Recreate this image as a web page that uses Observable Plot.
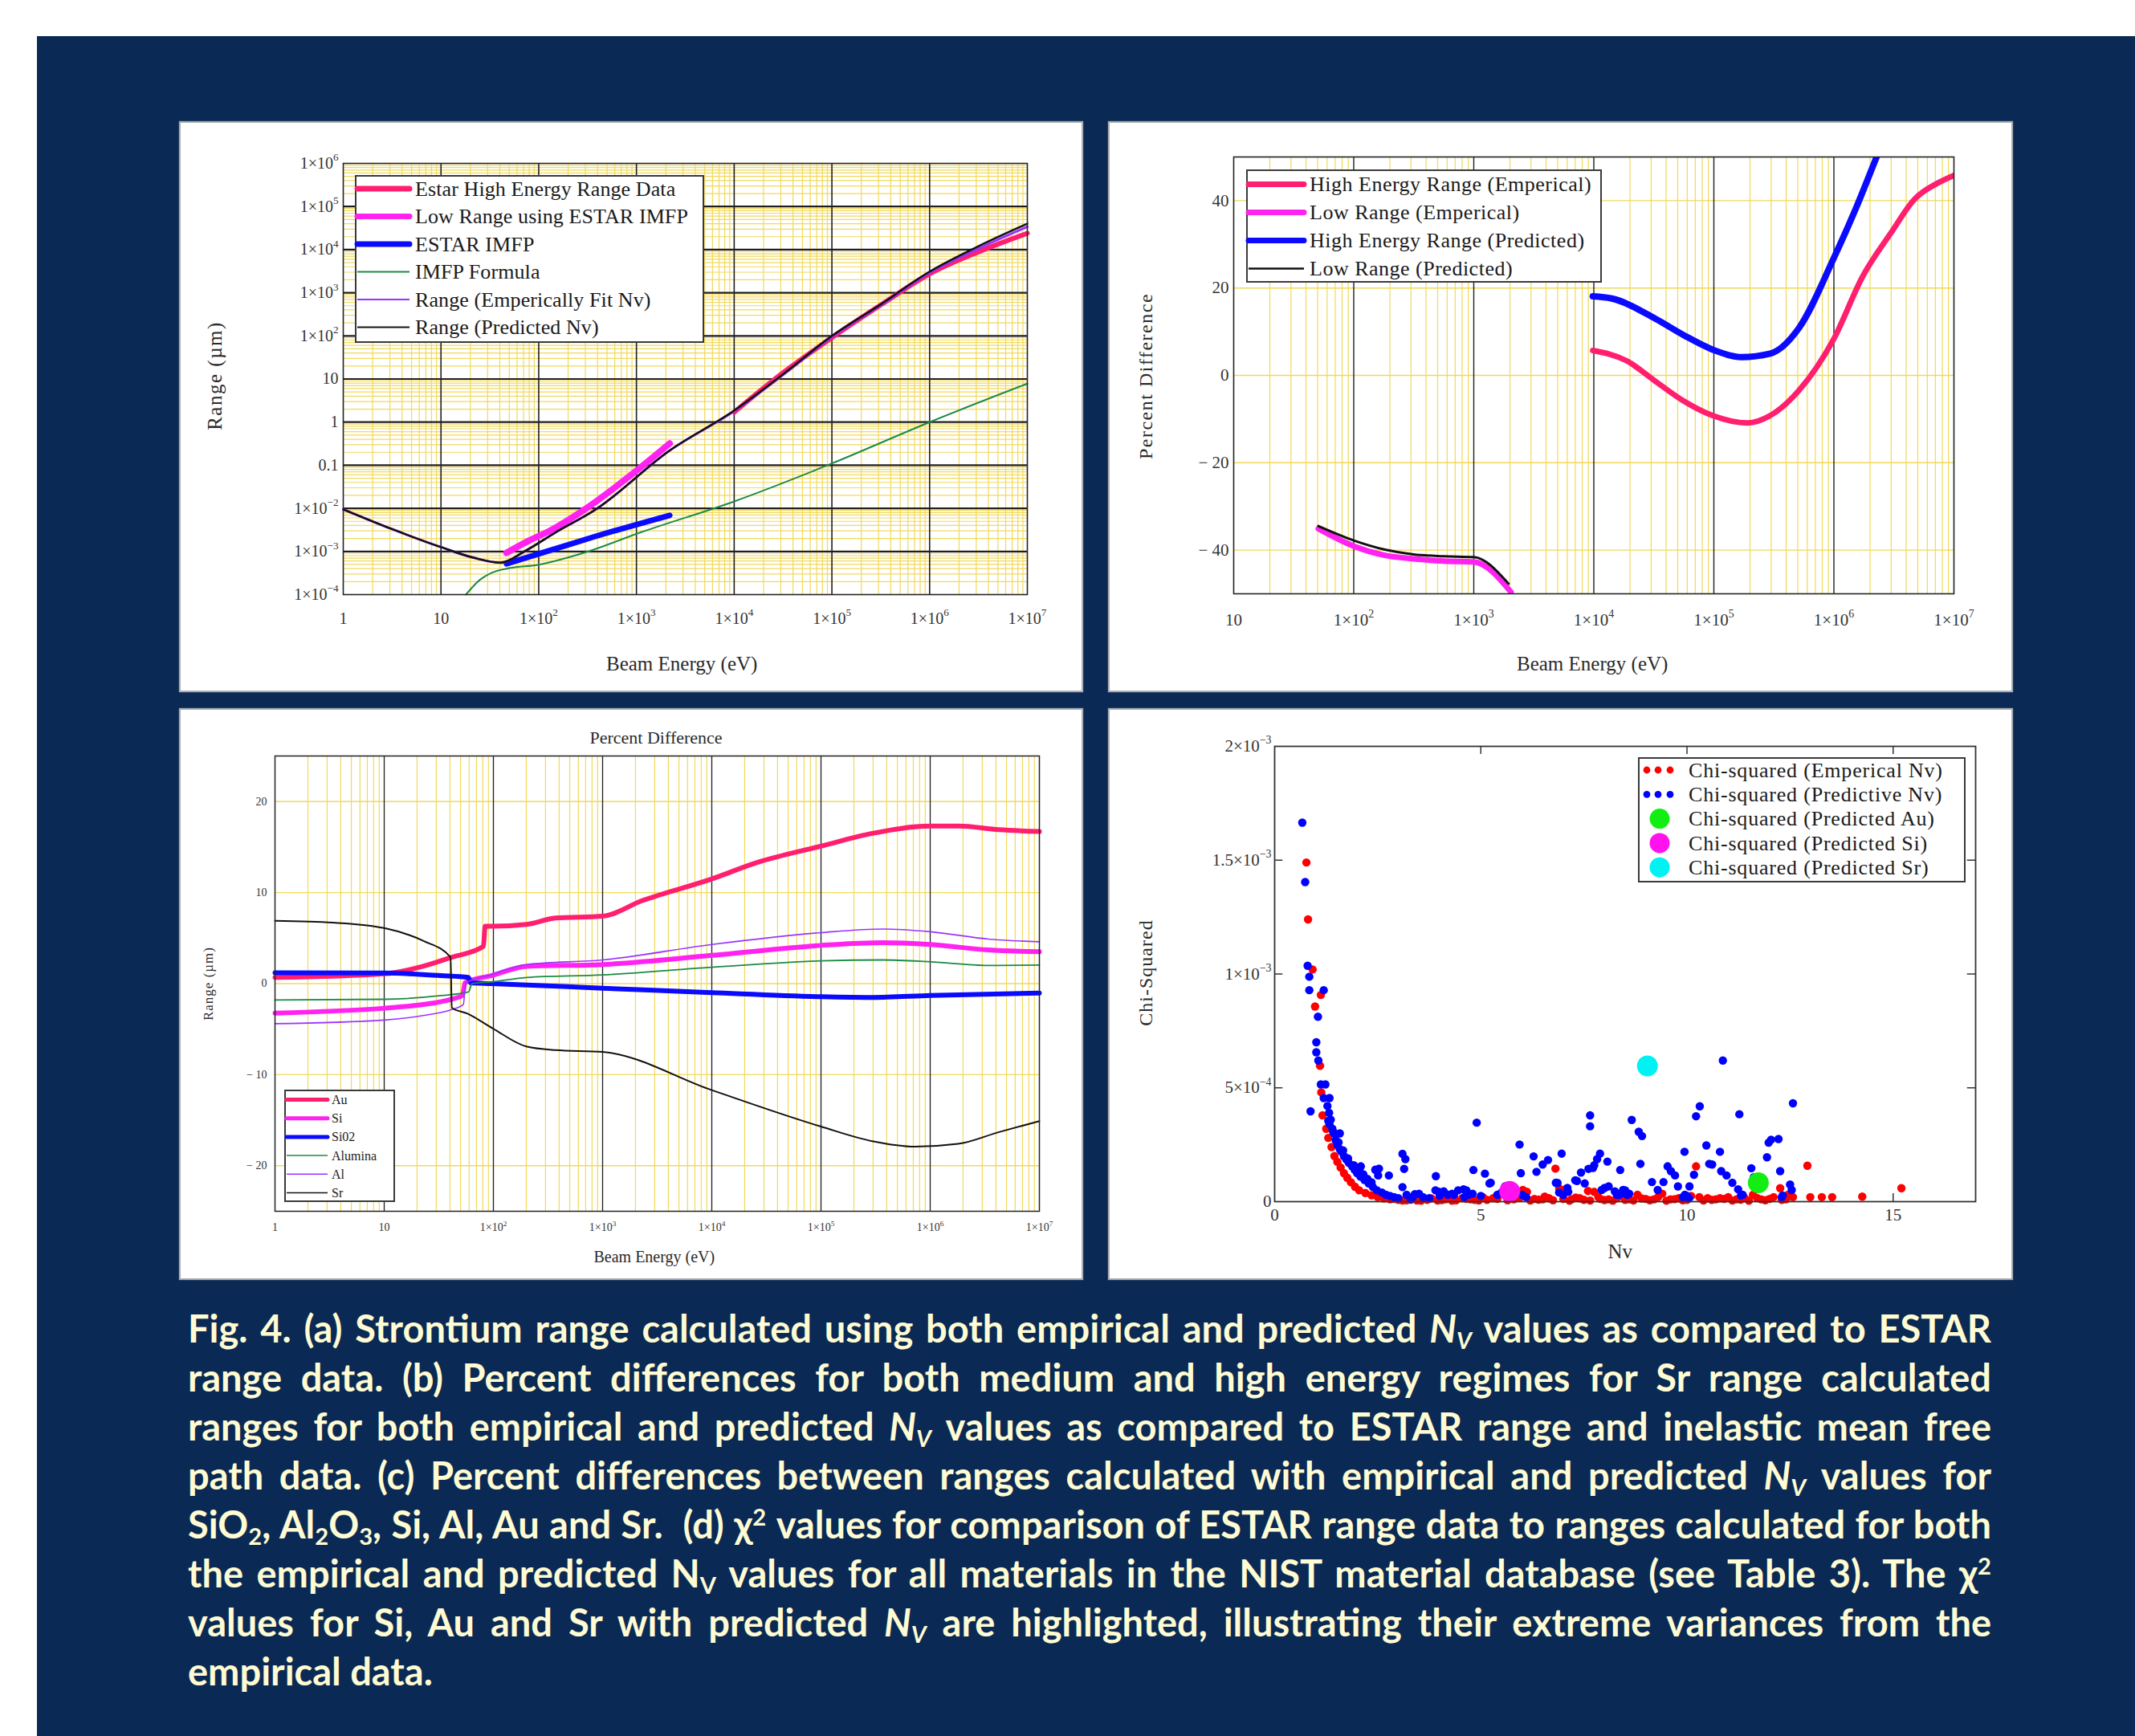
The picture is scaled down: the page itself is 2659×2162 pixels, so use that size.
<!DOCTYPE html>
<html><head><meta charset="utf-8">
<script src="https://cdn.jsdelivr.net/npm/d3@7"></script>
<script src="https://cdn.jsdelivr.net/npm/@observablehq/plot@0.6"></script>
<style>
html,body{margin:0;padding:0;width:2659px;height:2162px;overflow:hidden;background:#fff;}
#navy{position:absolute;left:46px;top:45px;width:2613px;height:2117px;background:#0a2a55;}
.panel{position:absolute;background:#fff;box-shadow:0 0 1px 2px rgba(190,190,190,0.9);}
.panel svg{position:absolute;left:0;top:0;overflow:visible;}
.lab{position:absolute;font-family:"Liberation Serif","Times New Roman",serif;color:#2a2a2a;white-space:nowrap;transform-origin:center center;}
#caption{position:absolute;left:234px;top:1624px;width:2246px;font-family:Lato,"Open Sans",sans-serif;font-weight:700;font-size:47px;line-height:61px;color:#fffbd2;}
#caption .ln{white-space:nowrap;}
#caption sub,#caption sup{font-size:0.62em;line-height:0;}
#caption sub{vertical-align:-0.28em;}
#caption sup{vertical-align:0.55em;}
</style></head>
<body>
<div id="navy"></div>
<div class="panel" id="pa" style="left:225px;top:153px;width:1122px;height:707px"></div>
<div class="panel" id="pb" style="left:1382px;top:153px;width:1123px;height:707px"></div>
<div class="panel" id="pc" style="left:225px;top:884px;width:1122px;height:708px"></div>
<div class="panel" id="pd" style="left:1382px;top:884px;width:1123px;height:708px"></div>
<div id="caption">
<div class="ln"><span>Fig. 4. (a) Strontium range calculated using both empirical and predicted <i>N<sub>V</sub></i> values as compared to ESTAR</span></div>
<div class="ln"><span>range data. (b) Percent differences for both medium and high energy regimes for Sr range calculated</span></div>
<div class="ln"><span>ranges for both empirical and predicted <i>N<sub>V</sub></i> values as compared to ESTAR range and inelastic mean free</span></div>
<div class="ln"><span>path data. (c) Percent differences between ranges calculated with empirical and predicted <i>N<sub>V</sub></i> values for</span></div>
<div class="ln"><span>SiO<sub>2</sub>, Al<sub>2</sub>O<sub>3</sub>, Si, Al, Au and Sr.&nbsp; (d) χ<sup>2</sup> values for comparison of ESTAR range data to ranges calculated for both</span></div>
<div class="ln"><span>the empirical and predicted N<sub>V</sub> values for all materials in the NIST material database (see Table 3). The χ<sup>2</sup></span></div>
<div class="ln"><span>values for Si, Au and Sr with predicted <i>N<sub>V</sub></i> are highlighted, illustrating their extreme variances from the</span></div>
<div class="ln last"><span>empirical data.</span></div>
</div>
<script>
// ================= DATA =================
// (a) Range vs beam energy (log-log)
const aPredE = [1, 3.16, 10, 21.9, 40.7, 74, 148, 380, 2190, 1e4, 3.39e4, 1e5, 3.16e5, 1e6, 3.16e6, 1e7];
const aPredR = [9.5e-3, 3.3e-3, 1.26e-3, 7.1e-4, 5.5e-4, 1.05e-3, 2.75e-3, 9.3e-3, 0.22, 1.86, 14.5, 100, 537, 3090, 1.2e4, 4.0e4];
const aEmpE  = [1, 3.16, 10, 21.9, 40.7, 74, 148, 380, 2190, 1e4, 3.39e4, 1e5, 3.16e5, 1e6, 3.16e6, 1e7];
const aEmpR  = [9.5e-3, 3.3e-3, 1.26e-3, 7.1e-4, 5.5e-4, 1.05e-3, 2.75e-3, 9.3e-3, 0.22, 1.8, 14, 95, 510, 2900, 1.06e4, 3.4e4];
const aEstarE = [1e4, 3.16e4, 1e5, 3.16e5, 1e6, 3.16e6, 1e7];
const aEstarR = [1.7, 14, 91, 520, 2750, 8900, 2.4e4];
const aLowE = [46.8, 80, 129, 288, 851, 2190];
const aLowR = [9.3e-4, 1.8e-3, 3.0e-3, 9.1e-3, 5.6e-2, 0.32];
const aImfpE = [46.8, 129, 380, 2190];
const aImfpR = [5.2e-4, 1.05e-3, 2.24e-3, 6.9e-3];
const aFormE = [18, 25, 33, 50, 98, 290, 1120, 1e4, 1e5, 1e6, 1e7];
const aFormR = [1e-4, 2.2e-4, 3.2e-4, 4.1e-4, 4.9e-4, 9.3e-4, 2.8e-3, 1.45e-2, 0.11, 1.0, 7.8];
const aXTicks = [1, 10, 1e2, 1e3, 1e4, 1e5, 1e6, 1e7];
const aXLabels = ["1", "10", "1×10^2", "1×10^3", "1×10^4", "1×10^5", "1×10^6", "1×10^7"];
const aYTicks = [1e-4, 1e-3, 1e-2, 0.1, 1, 10, 1e2, 1e3, 1e4, 1e5, 1e6];
const aYLabels = ["1×10^−4", "1×10^−3", "1×10^−2", "0.1", "1", "10", "1×10^2", "1×10^3", "1×10^4", "1×10^5", "1×10^6"];
const aLegend = ["Estar High Energy Range Data", "Low Range using ESTAR IMFP", "ESTAR IMFP", "IMFP Formula", "Range (Emperically Fit Nv)", "Range (Predicted Nv)"];

// (b) Percent difference vs beam energy
const bLowEmpE = [50.7, 100, 182, 316, 562, 1000, 2040];
const bLowEmpV = [-35.1, -39.1, -41.2, -42.0, -42.5, -42.7, -49.6];
const bLowPredE = [50.7, 100, 182, 316, 562, 1000, 1950];
const bLowPredV = [-34.5, -37.8, -39.9, -41.0, -41.4, -41.6, -47.7];
const bHighEmpE = [9800, 1.86e4, 3.24e4, 5.62e4, 9.77e4, 1.9e5, 2.95e5, 5.13e5, 1e6, 1.74e6, 3.02e6, 4.68e6, 7.41e6, 1e7];
const bHighEmpV = [5.7, 3.4, -1.3, -5.9, -9.2, -10.9, -9.2, -3.4, 8.4, 22.7, 32.8, 40.3, 44.1, 45.8];
const bHighPredE = [9800, 1.41e4, 3.24e4, 5.62e4, 9.77e4, 1.7e5, 2.95e5, 5.13e5, 1e6, 1.55e6, 2.3e6, 2.6e6];
const bHighPredV = [18.1, 17.6, 13.0, 9.2, 5.9, 4.2, 5.0, 10.9, 26.9, 38.7, 50.4, 54];
const bXTicks = [10, 1e2, 1e3, 1e4, 1e5, 1e6, 1e7];
const bXLabels = ["10", "1×10^2", "1×10^3", "1×10^4", "1×10^5", "1×10^6", "1×10^7"];
const bYTicks = [-40, -20, 0, 20, 40];
const bYLabels = ["− 40", "− 20", "0", "20", "40"];
const bLegend = ["High Energy Range (Emperical)", "Low Range (Emperical)", "High Energy Range (Predicted)", "Low Range (Predicted)"];

// (c) Percent difference for materials
const cAuE = [1, 10, 22.7, 41.6, 81, 84, 97, 201, 370, 1000, 2290, 1e4, 2.6e4, 1e5, 2.95e5, 1e6, 1.82e6, 4.27e6, 1e7];
const cAuV = [0.68, 1.08, 1.9, 2.9, 4.1, 6.3, 6.3, 6.5, 7.2, 7.4, 9.1, 11.5, 13.3, 15.1, 16.5, 17.3, 17.3, 16.9, 16.7];
const cSiE = [1, 10, 22.7, 41.6, 52, 55, 97, 201, 1000, 1e4, 1e5, 3.7e5, 1e6, 3.4e6, 1e7];
const cSiV = [-3.24, -2.7, -2.3, -1.7, -1.3, 0.1, 0.9, 1.9, 2.1, 3.1, 4.2, 4.5, 4.3, 3.7, 3.5];
const cSiO2E = [1, 10, 33, 59, 62, 97, 1000, 1e4, 1e5, 2.95e5, 1e6, 1e7];
const cSiO2V = [1.2, 1.16, 0.88, 0.68, 0.08, 0, -0.5, -1.0, -1.44, -1.52, -1.3, -1.04];
const cAlumE = [1, 10, 33, 59, 64, 97, 201, 1000, 1e4, 1e5, 3.7e5, 1e6, 3.4e6, 1e7];
const cAlumV = [-1.8, -1.72, -1.32, -0.92, 0, 0.2, 0.68, 0.96, 1.8, 2.5, 2.6, 2.4, 2.0, 2.04];
const cAlE = [1, 10, 22.7, 41.6, 53, 56, 97, 201, 1000, 1e4, 1e5, 3.7e5, 1e6, 3.4e6, 1e7];
const cAlV = [-4.4, -4.0, -3.5, -2.84, -2.3, 0.1, 1.0, 2.1, 2.6, 4.3, 5.6, 6.0, 5.7, 4.9, 4.6];
const cSrE = [1, 3.4, 10, 22.7, 40.5, 41.6, 58, 98, 200, 370, 1000, 1e4, 1e5, 2.95e5, 7.3e5, 1.8e6, 4.27e6, 1e7];
const cSrV = [6.9, 6.7, 6.1, 4.7, 2.9, -2.64, -3.3, -4.9, -6.9, -7.3, -7.5, -11.7, -15.7, -17.3, -17.9, -17.6, -16.3, -15.1];
const cYTicks = [-20, -10, 0, 10, 20];
const cYLabels = ["− 20", "− 10", "0", "10", "20"];
const cLegend = ["Au", "Si", "Si02", "Alumina", "Al", "Sr"];

// (d) Chi-squared vs Nv (chi values in units of 1e-4)
const dEmpNv = [0.77,0.81,0.92,0.98,1.12,1.10,1.13,1.16,1.25,1.3,1.38,1.45,1.52,1.6,1.68,1.76,1.85,1.95,2.05,2.2,2.35,2.5,2.65,2.8,3.0,3.2,3.45,3.7,3.95,4.15,4.4,4.65,4.85,5.05,5.3,5.5,5.8,6.02,6.12,6.3,6.5,6.65,6.81,6.9,7.05,7.2,7.4,7.6,7.75,7.9,8.1,8.3,8.5,8.8,9.0,9.2,9.4,9.6,9.8,10.0,10.22,10.3,10.5,10.7,10.9,11.2,11.4,11.6,11.8,12.0,12.26,12.4,12.57,12.92,12.99,13.27,13.52,14.25,15.2,
  2.9,3.1,3.3,3.55,3.8,4.05,4.3,4.55,4.75,4.95,5.15,5.4,5.65,5.95,6.2,6.4,6.55,6.75,7.0,7.15,7.3,7.5,7.65,7.85,8.0,8.2,8.4,8.6,8.7,8.9,9.1,9.3,9.5,9.7,9.9,10.1,10.4,10.6,10.8,11.0,11.1,11.3,11.5,11.7,11.9,12.1,12.3,12.45];
const dEmpChi = [14.9,12.4,10.2,8.57,9.08,5.97,4.8,3.79,3.2,2.8,2.4,2.0,1.75,1.5,1.25,1.05,0.85,0.65,0.5,0.38,0.28,0.2,0.14,0.1,0.08,0.06,0.05,0.08,0.05,0.1,0.06,0.12,0.08,0.2,0.15,0.35,0.1,0.51,0.43,0.12,0.1,0.15,1.45,0.58,0.54,0.1,0.15,0.47,0.43,0.12,0.1,0.15,0.08,0.3,0.12,0.1,0.35,0.1,0.15,0.08,1.55,0.2,0.15,0.1,0.12,0.1,0.15,0.3,0.1,0.12,0.59,0.1,0.2,1.58,0.2,0.2,0.2,0.22,0.59,
  0.12,0.05,0.09,0.04,0.14,0.07,0.04,0.15,0.1,0.05,0.08,0.12,0.06,0.18,0.05,0.09,0.22,0.06,0.12,0.04,0.18,0.08,0.05,0.2,0.07,0.04,0.25,0.1,0.05,0.14,0.06,0.2,0.04,0.11,0.06,0.25,0.05,0.08,0.15,0.2,0.05,0.09,0.04,0.16,0.06,0.2,0.08,0.3];
const dPredNv = [0.67,0.74,0.80,0.84,0.84,0.87,1.19,1.05,1.01,1.01,1.06,1.12,1.23,1.19,1.33,1.28,1.32,1.36,1.33,1.4,1.45,1.58,1.48,1.52,1.58,1.62,1.68,1.74,1.8,1.88,1.94,2.0,2.09,2.08,2.18,2.28,2.38,2.44,2.51,2.53,2.48,2.6,2.7,2.77,2.8,2.9,3.0,3.1,3.17,3.14,3.1,3.3,3.4,3.6,3.91,3.98,3.9,4.2,4.3,4.45,4.58,4.7,4.82,4.9,5.1,5.21,5.24,5.4,5.59,5.94,5.97,6.0,6.28,6.35,6.5,6.63,6.82,6.86,6.9,6.96,7.12,7.1,7.29,7.33,7.43,7.52,7.61,7.65,7.65,7.72,7.75,7.82,7.89,7.93,8.0,8.07,8.1,8.3,8.38,8.4,8.45,8.55,8.66,8.83,8.87,8.91,9.15,9.29,9.43,9.53,9.61,9.71,9.78,9.94,9.9,10.06,10.0,10.17,10.22,10.31,10.47,10.54,10.61,10.80,10.83,10.87,10.96,11.1,11.24,11.27,11.31,11.56,11.62,11.94,11.98,12.04,12.22,12.26,12.32,12.5,12.54,12.57,
  1.3,1.42,1.55,1.66,1.78,1.92,2.05,2.15,2.25,2.35,3.2,3.35,3.5,3.75,4.0,4.1,4.35,4.6,4.65,4.8,5.0,5.5,6.1,7.0,8.25,8.35,8.5,8.6,9.95,10.05,11.35,12.3];
const dPredChi = [16.65,14.04,10.36,9.88,9.29,3.97,9.29,8.12,7.0,6.56,6.2,5.15,5.15,4.55,4.55,4.2,3.9,3.6,3.4,3.2,3.0,3.0,2.7,2.5,2.3,2.2,2.0,1.85,1.7,1.55,1.4,1.25,1.55,1.1,0.95,0.8,0.65,1.4,1.15,1.45,0.5,0.4,0.3,1.15,0.25,0.2,0.15,2.1,1.87,1.44,0.64,0.1,0.33,0.2,1.12,0.43,0.5,0.3,0.35,0.5,0.54,0.3,1.39,3.47,1.23,0.8,0.83,0.3,0.67,2.51,1.25,0.3,1.99,1.31,1.63,1.83,0.83,0.82,0.4,2.11,0.43,0.6,0.94,0.91,1.28,0.8,1.44,3.79,3.31,1.48,1.6,1.87,2.11,0.51,0.6,1.76,0.67,0.3,1.39,0.35,0.51,0.3,3.59,3.07,1.66,2.88,0.86,0.51,0.86,1.55,1.34,1.15,0.67,2.19,0.2,0.67,0.25,1.18,3.75,4.19,2.47,1.66,1.63,2.19,1.34,6.2,1.15,0.83,0.54,3.84,0.27,1.47,1.07,1.95,2.59,2.72,2.75,1.34,0.27,0.75,0.51,4.32,
  3.55,3.05,2.6,2.25,1.9,1.6,1.35,1.2,1.0,0.85,0.3,0.2,0.35,0.15,0.25,0.45,0.3,0.2,0.5,0.35,0.25,0.4,0.2,0.3,0.45,0.3,0.5,0.35,0.3,0.15,0.3,0.2];
const dHiNames = ["Au", "Si", "Sr"];
const dHiNv = [11.73, 5.7, 9.04];
const dHiChi = [0.83, 0.45, 5.96];
const dXTicks = [0, 5, 10, 15];
const dXLabels = ["0", "5", "10", "15"];
const dYTicks = [0, 5e-4, 1e-3, 1.5e-3, 2e-3];
const dYLabels = ["0", "5×10^−4", "1×10^−3", "1.5×10^−3", "2×10^−3"];
const dLegend = ["Chi-squared (Emperical Nv)", "Chi-squared (Predictive Nv)", "Chi-squared (Predicted Au)", "Chi-squared (Predicted Si)", "Chi-squared (Predicted Sr)"];

// ================= STYLE =================
const PINK = "#ff1f6e", MAG = "#ff22f0", BLUE = "#0a0aff", GREEN = "#1c8a45", PURPLE = "#9a33ff", BLACK = "#111";
const YEL = "#f1d95a", MAJ = "#1e1e1e";
const SERIF = "'Liberation Serif','Times New Roman',serif";
const NS = "http://www.w3.org/2000/svg";

const fmt = (ticks, labels) => d => { const i = ticks.indexOf(d); return i < 0 ? "" : labels[i]; };
function logMinors(lo, hi) { const out = []; for (let p = lo; p < hi; p++) for (let m = 2; m <= 9; m++) out.push(m * Math.pow(10, p)); return out; }
function logMajors(lo, hi) { const out = []; for (let p = lo + 1; p < hi; p++) out.push(Math.pow(10, p)); return out; }
const zip = (a, b) => a.map((v, i) => [v, b[i]]);

function supify(svg) {
  svg.querySelectorAll("text, tspan").forEach(el => {
    if (el.children.length) return;
    const s = el.textContent; const i = s.indexOf("^");
    if (i < 0) return;
    el.textContent = "";
    const a = document.createElementNS(NS, "tspan"); a.textContent = s.slice(0, i);
    const b = document.createElementNS(NS, "tspan"); b.textContent = s.slice(i + 1);
    b.setAttribute("font-size", "66%"); b.setAttribute("dy", "-0.72em");
    el.append(a, b);
  });
}
function mount(id, svg) { supify(svg); document.getElementById(id).appendChild(svg); }

function label(text, cx, cy, size, rot, extra) {
  const d = document.createElement("div");
  d.className = "lab"; d.textContent = text;
  d.style.fontSize = size + "px";
  if (extra) Object.assign(d.style, extra);
  document.body.appendChild(d);
  const w = d.offsetWidth, h = d.offsetHeight;
  d.style.left = (cx - w / 2) + "px"; d.style.top = (cy - h / 2) + "px";
  if (rot) d.style.transform = "rotate(-90deg)";
}

function legend(panelId, cfg) {
  const svg = d3.create("svg").attr("width", cfg.w).attr("height", cfg.h)
    .style("left", cfg.x + "px").style("top", cfg.y + "px").style("position", "absolute");
  svg.append("rect").attr("x", 1).attr("y", 1).attr("width", cfg.w - 2).attr("height", cfg.h - 2)
    .attr("fill", "#fff").attr("stroke", "#3a3a3a").attr("stroke-width", 2);
  cfg.items.forEach((it, i) => {
    const cy = cfg.row0 + i * cfg.step;
    if (it.kind === "dots") {
      cfg.dotX.forEach(x => svg.append("circle").attr("cx", x).attr("cy", cy).attr("r", cfg.dotR).attr("fill", it.color));
    } else if (it.kind === "big") {
      svg.append("circle").attr("cx", cfg.bigX).attr("cy", cy).attr("r", cfg.bigR).attr("fill", it.color);
    } else {
      svg.append("line").attr("x1", cfg.s0).attr("x2", cfg.s1).attr("y1", cy).attr("y2", cy)
        .attr("stroke", it.color).attr("stroke-width", it.width).attr("stroke-linecap", it.width > 3 ? "round" : "butt");
    }
    svg.append("text").attr("x", cfg.tx).attr("y", cy).attr("dy", "0.34em")
      .attr("font-family", SERIF).attr("font-size", cfg.fs).attr("letter-spacing", cfg.ls || 0)
      .attr("fill", "#1a1a1a").text(it.label);
  });
  document.getElementById(panelId).appendChild(svg.node());
}

// ================= PANEL A =================
mount("pa", Plot.plot({
  width: 1122, height: 707, marginLeft: 202, marginRight: 68, marginTop: 50, marginBottom: 120,
  style: {background: "transparent", fontFamily: SERIF, fontSize: "20px", color: "#333"},
  x: {type: "log", domain: [1, 1e7], ticks: aXTicks, tickFormat: fmt(aXTicks, aXLabels), tickSize: 0, tickPadding: 22, label: null},
  y: {type: "log", domain: [1e-4, 1e6], ticks: aYTicks, tickFormat: fmt(aYTicks, aYLabels), tickSize: 0, tickPadding: 6, label: null},
  marks: [
    Plot.ruleX(logMinors(0, 7), {stroke: YEL, strokeWidth: 1.2}),
    Plot.ruleY(logMinors(-4, 6), {stroke: YEL, strokeWidth: 1.2}),
    Plot.ruleX(logMajors(0, 7), {stroke: MAJ, strokeWidth: 1.6}),
    Plot.ruleY(logMajors(-4, 6), {stroke: MAJ, strokeWidth: 2.2}),
    Plot.line(zip(aEstarE, aEstarR), {stroke: PINK, strokeWidth: 6, curve: "monotone-x"}),
    Plot.line(zip(aLowE, aLowR), {stroke: MAG, strokeWidth: 8, curve: "monotone-x", strokeLinecap: "round"}),
    Plot.line(zip(aImfpE, aImfpR), {stroke: BLUE, strokeWidth: 7, curve: "monotone-x", strokeLinecap: "round"}),
    Plot.line(zip(aFormE, aFormR), {stroke: GREEN, strokeWidth: 2, curve: "monotone-x"}),
    Plot.line(zip(aEmpE, aEmpR), {stroke: PURPLE, strokeWidth: 3, curve: "monotone-x"}),
    Plot.line(zip(aPredE, aPredR), {stroke: BLACK, strokeWidth: 2.5, curve: "monotone-x"}),
    Plot.frame({stroke: "#222", strokeWidth: 1.6})
  ]
}));
legend("pa", {x: 217, y: 65, w: 435, h: 209, row0: 17, step: 34.5, s0: 3, s1: 68, tx: 75, fs: 26, ls: 0.1,
  items: [
    {label: aLegend[0], color: PINK, width: 7}, {label: aLegend[1], color: MAG, width: 7},
    {label: aLegend[2], color: BLUE, width: 7}, {label: aLegend[3], color: GREEN, width: 2},
    {label: aLegend[4], color: PURPLE, width: 2}, {label: aLegend[5], color: BLACK, width: 2}]});

// ================= PANEL B =================
mount("pb", Plot.plot({
  width: 1123, height: 707, marginLeft: 154, marginRight: 72, marginTop: 42, marginBottom: 121,
  style: {background: "transparent", fontFamily: SERIF, fontSize: "21px", color: "#333"},
  x: {type: "log", domain: [10, 1e7], ticks: bXTicks, tickFormat: fmt(bXTicks, bXLabels), tickSize: 0, tickPadding: 25, label: null},
  y: {domain: [-50, 50], ticks: bYTicks, tickFormat: fmt(bYTicks, bYLabels), tickSize: 0, tickPadding: 6, label: null},
  marks: [
    Plot.ruleX(logMinors(1, 7), {stroke: YEL, strokeWidth: 1.2}),
    Plot.ruleY(bYTicks, {stroke: YEL, strokeWidth: 1.4}),
    Plot.ruleX(logMajors(1, 7), {stroke: MAJ, strokeWidth: 1.4}),
    Plot.line(zip(bHighEmpE, bHighEmpV), {stroke: PINK, strokeWidth: 7, curve: "monotone-x", clip: true}),
    Plot.line(zip(bLowEmpE, bLowEmpV), {stroke: MAG, strokeWidth: 7, curve: "monotone-x", clip: true}),
    Plot.line(zip(bHighPredE, bHighPredV), {stroke: BLUE, strokeWidth: 8, curve: "monotone-x", clip: true}),
    Plot.line(zip(bLowPredE, bLowPredV), {stroke: BLACK, strokeWidth: 3, curve: "monotone-x", clip: true}),
    Plot.frame({stroke: "#222", strokeWidth: 1.6})
  ]
}));
legend("pb", {x: 170, y: 58, w: 443, h: 141, row0: 18.5, step: 35, s0: 3, s1: 72, tx: 79, fs: 26, ls: 0.5,
  items: [
    {label: bLegend[0], color: PINK, width: 7}, {label: bLegend[1], color: MAG, width: 7},
    {label: bLegend[2], color: BLUE, width: 7}, {label: bLegend[3], color: BLACK, width: 2.5}]});

// ================= PANEL C =================
mount("pc", Plot.plot({
  width: 1122, height: 708, marginLeft: 117, marginRight: 53, marginTop: 57, marginBottom: 84,
  style: {background: "transparent", fontFamily: SERIF, fontSize: "14px", color: "#333"},
  x: {type: "log", domain: [1, 1e7], ticks: aXTicks, tickFormat: fmt(aXTicks, aXLabels), tickSize: 0, tickPadding: 15, label: null},
  y: {domain: [-25, 25], ticks: cYTicks, tickFormat: fmt(cYTicks, cYLabels), tickSize: 0, tickPadding: 10, label: null},
  marks: [
    Plot.ruleX(logMinors(0, 7), {stroke: YEL, strokeWidth: 1.2}),
    Plot.ruleY(cYTicks, {stroke: YEL, strokeWidth: 1.4}),
    Plot.ruleX(logMajors(0, 7), {stroke: MAJ, strokeWidth: 1.3}),
    Plot.line(zip(cAuE, cAuV), {stroke: PINK, strokeWidth: 6, curve: "monotone-x"}),
    Plot.line(zip(cSiE, cSiV), {stroke: MAG, strokeWidth: 6, curve: "monotone-x"}),
    Plot.line(zip(cSiO2E, cSiO2V), {stroke: BLUE, strokeWidth: 6, curve: "monotone-x"}),
    Plot.line(zip(cAlumE, cAlumV), {stroke: GREEN, strokeWidth: 1.8, curve: "monotone-x"}),
    Plot.line(zip(cAlE, cAlV), {stroke: PURPLE, strokeWidth: 1.6, curve: "monotone-x"}),
    Plot.line(zip(cSrE, cSrV), {stroke: BLACK, strokeWidth: 2, curve: "monotone-x"}),
    Plot.frame({stroke: "#222", strokeWidth: 1.5})
  ]
}));
legend("pc", {x: 129, y: 473, w: 138, h: 140, row0: 12.5, step: 23.2, s0: 3, s1: 54, tx: 59, fs: 16,
  items: [
    {label: cLegend[0], color: PINK, width: 5}, {label: cLegend[1], color: MAG, width: 5},
    {label: cLegend[2], color: BLUE, width: 5}, {label: cLegend[3], color: GREEN, width: 1.5},
    {label: cLegend[4], color: PURPLE, width: 1.5}, {label: cLegend[5], color: BLACK, width: 1.5}]});

// ================= PANEL D =================
const dHiColors = ["#12ee12", "#ff12ee", "#00f2f2"];
mount("pd", Plot.plot({
  width: 1123, height: 708, marginLeft: 205, marginRight: 45, marginTop: 45, marginBottom: 96,
  style: {background: "transparent", fontFamily: SERIF, fontSize: "21px", color: "#333"},
  x: {domain: [0, 17], ticks: dXTicks, tickFormat: fmt(dXTicks, dXLabels), tickSize: 0, tickPadding: 9, label: null},
  y: {domain: [0, 2e-3], ticks: dYTicks, tickFormat: fmt(dYTicks, dYLabels), tickSize: 0, tickPadding: 4, label: null},
  marks: [
    Plot.ruleY(dYTicks.slice(1, 4), {x1: 0, x2: 0.2, stroke: "#333", strokeWidth: 1.5}),
    Plot.ruleY(dYTicks.slice(1, 4), {x1: 16.8, x2: 17, stroke: "#333", strokeWidth: 1.5}),
    Plot.ruleX(dXTicks.slice(1), {y1: 0, y2: 3.5e-5, stroke: "#333", strokeWidth: 1.5}),
    Plot.ruleX(dXTicks.slice(1), {y1: 2e-3 - 3.5e-5, y2: 2e-3, stroke: "#333", strokeWidth: 1.5}),
    Plot.dot(dEmpNv, {x: d => d, y: (d, i) => dEmpChi[i] * 1e-4, r: 5.2, fill: "#ff0000"}),
    Plot.dot(dPredNv, {x: d => d, y: (d, i) => dPredChi[i] * 1e-4, r: 5.2, fill: "#0000ff"}),
    Plot.dot(dHiNames, {x: (d, i) => dHiNv[i], y: (d, i) => dHiChi[i] * 1e-4, r: 13, fill: (d, i) => dHiColors[i]}),
    Plot.frame({stroke: "#333", strokeWidth: 1.8})
  ]
}));
legend("pd", {x: 658, y: 59, w: 408, h: 156, row0: 16, step: 30.3, dotX: [11, 25, 40], dotR: 4.4, bigX: 27, bigR: 12.5, tx: 63, fs: 26, ls: 0.8,
  items: [
    {label: dLegend[0], color: "#ff0000", kind: "dots"}, {label: dLegend[1], color: "#0000ff", kind: "dots"},
    {label: dLegend[2], color: dHiColors[0], kind: "big"}, {label: dLegend[3], color: dHiColors[1], kind: "big"},
    {label: dLegend[4], color: dHiColors[2], kind: "big"}]});

// ================= AXIS TITLES =================
label("Beam Energy (eV)", 849, 827, 25);
label("Range (µm)", 268, 468, 25, true, {letterSpacing: "1.5px"});
label("Beam Energy (eV)", 1983, 827, 25);
label("Percent Difference", 1427, 468, 24, true, {letterSpacing: "1.5px"});
label("Percent Difference", 817, 919, 22);
label("Beam Energy (eV)", 815, 1565, 20);
label("Range (µm)", 260, 1225, 17, true, {letterSpacing: "1px"});
label("Nv", 2018, 1559, 25);
label("Chi-Squared", 1427, 1211, 24, true, {letterSpacing: "1px"});

// ================= CAPTION JUSTIFY =================
function justify() {
  const target = 2246;
  document.querySelectorAll("#caption .ln").forEach(ln => {
    if (ln.classList.contains("last")) return;
    const sp = ln.querySelector("span");
    const n = (sp.textContent.match(/[ \u00a0]/g) || []).length;
    if (!n) return;
    let ws = 0;
    sp.style.wordSpacing = "0px";
    for (let k = 0; k < 3; k++) {
      const r = document.createRange(); r.selectNodeContents(sp);
      const rects = Array.from(r.getClientRects());
      const right = Math.max(...rects.map(q => q.right), sp.getBoundingClientRect().right);
      const left = sp.getBoundingClientRect().left;
      ws += (target - (right - left)) / n;
      sp.style.wordSpacing = ws + "px";
    }
  });
}
justify();
if (document.fonts && document.fonts.ready) document.fonts.ready.then(() => { justify(); setTimeout(justify, 50); });
</script>
</body></html>
